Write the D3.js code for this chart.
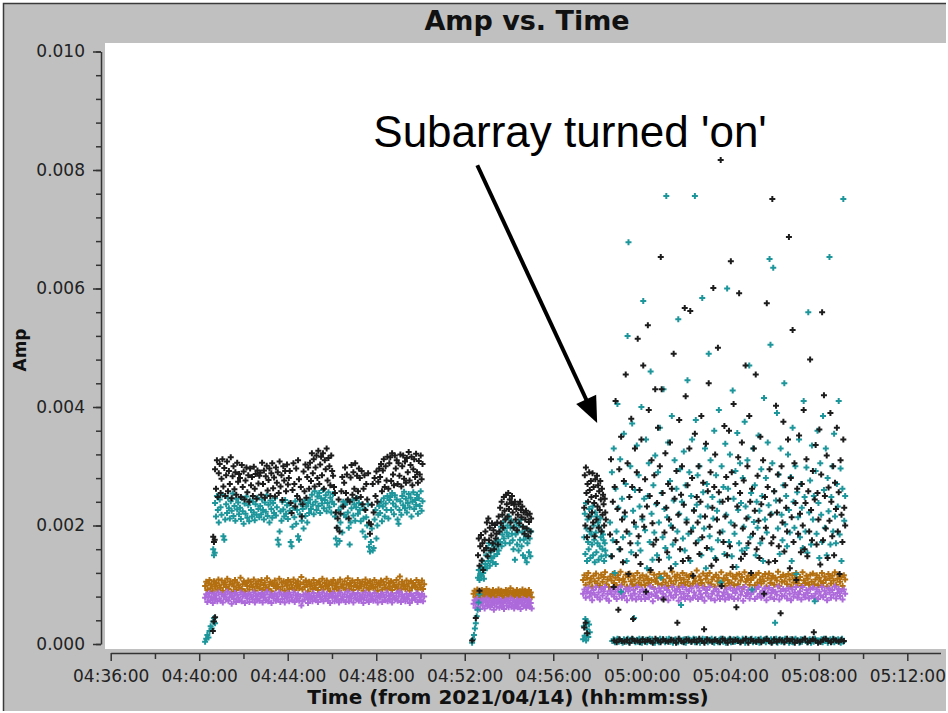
<!DOCTYPE html>
<html lang="en">
<head>
<meta charset="UTF-8">
<title>Amp vs. Time</title>
<script src="https://cdn.jsdelivr.net/npm/d3@7"></script>
<style>
  body { margin: 0; background: #fff; }
  svg { display: block; }
</style>
</head>
<body>
<svg id="chart" width="948" height="713"></svg>
<script>
// amplitudes are written in units of 1e-5 (290 -> 0.00290)
var AMP_UNIT = 1e-5;
var DAY = "2021-04-14T";

var timeTicks = ["04:36:00","04:40:00","04:44:00","04:48:00","04:52:00","04:56:00","05:00:00","05:04:00","05:08:00","05:12:00"];
var timeMinor = ["04:38:00","04:42:00","04:46:00","04:50:00","04:54:00","04:58:00","05:02:00","05:06:00","05:10:00"];
var ampTicks = [0, 0.002, 0.004, 0.006, 0.008, 0.010];

// first scan block 04:40 - 04:50
var blackA = [295,262,310,248,288,304,255,279,312,266,297,250,285,308,258,292,270,315,246,283,300,261,290,252,306,274,287,
  280,248,302,265,291,244,276,298,256,285,240,296,268,282,250,299,262,287,245,293,271,284,
  289,252,306,270,293,247,283,301,259,277,296,250,288,305,263,281,249,298,272,290,255,308,266,285,243,300,276,292,258,303,269,280,
  292,238,221,260,305,270,232,296,250,310,278,244,265,215,236,291,258,303,247,282,298,262,
  306,275,322,288,312,266,298,318,280,326,270,303,316,285,322,262,310,295,330,276,314,300,268,318,292,284,265,
  255,222,196,212,244,190,220,258,282,232,272,
  298,255,286,244,212,240,281,302,252,290,262,305,246,284,258,296,
  280,248,292,236,262,285,226,270,244,288,205,186,202,235,270,222,280,250,291,240,274,296,
  282,304,258,293,312,265,300,276,316,262,305,
  315,275,322,286,268,318,296,310,270,305,284,320,266,300,318,279,308,272,314,290,324,276,302,316,268,295,312,282,321,290,272,309,286,318,278,304];
var tealA = [238,215,250,226,205,244,231,218,252,182,176,210,236,221,247,229,212,241,225,254,216,233,208,245,227,239,219,
  230,211,246,224,203,237,220,249,213,234,207,242,226,215,240,222,209,236,218,247,228,214,
  233,219,244,226,210,239,223,251,216,235,205,242,228,213,238,221,246,217,231,176,168,190,224,208,240,227,215,243,220,234,211,237,
  225,172,165,198,230,214,241,203,226,182,176,219,236,208,228,195,242,216,232,205,238,221,
  244,228,252,235,219,258,240,226,249,233,255,221,246,237,260,229,243,251,224,238,256,231,247,222,240,253,236,
  215,178,168,196,226,174,205,232,188,240,218,
  235,214,241,222,196,168,205,229,243,217,236,208,231,246,220,238,
  226,207,235,190,212,228,181,214,200,236,164,156,172,195,158,162,210,226,178,200,218,233,
  221,240,207,232,246,215,237,226,250,212,243,
  248,226,255,237,219,251,232,244,210,203,226,241,218,250,234,257,229,245,222,238,253,231,247,215,240,256,228,243,235,252,220,246,233,258,225,241];
var orangeA = [98,105,91,102,108,94,100,89,106,97, 103,92,109,99,95,107,90,101,104,96, 110,93,100,106,88,102,97,108,91,104,
  99,95,112,93,101,106,89,103,98,107, 92,105,100,96,109,90,102,97,106,94, 101,108,91,99,104,95,111,93,100,105,
  89,103,98,107,94,101,96,110,92,104, 97,106,90,102,99,108,93,105,100,95, 109,91,103,98,106,94,101,113,92,104,
  96,107,100,89,105,97,102,93,108,99, 95,104,91,106,100,96,110,92,103,98, 107,94,101,89,105,99,108,93,102,96,
  104,90,109,97,101,95,106,92,100,111, 93,103,98,107,91,104,99,96,108,94, 102,97,105,90,100,109,95,103,92,106,
  98,101,94,108,96,104,90,102,99,107, 92,105,100,95,110,93,103,97,106,91, 104,99,96,108,94,101,114,92,105,98,
  100,93,107,97,102,90,106,95,103,99, 96,108,92,104,100,95,107,93,101];
var purpleA = [78,84,71,80,86,74,79,69,85,76, 82,72,87,77,73,84,70,80,83,75, 88,73,79,85,68,81,76,86,71,83,
  78,74,87,72,80,84,69,82,77,85, 71,83,79,75,87,70,81,76,84,73, 80,86,70,78,83,74,88,72,79,84,
  69,82,77,85,73,80,75,87,71,83, 76,84,70,81,78,86,72,83,79,74, 87,71,82,77,84,73,80,65,72,83,
  75,85,79,69,83,76,81,72,86,78, 74,82,71,84,79,75,87,72,81,77, 85,73,80,69,83,78,86,72,81,75,
  82,70,87,76,80,74,84,71,79,88, 72,81,77,85,70,83,78,75,86,73, 80,76,83,69,79,87,74,82,71,84,
  77,80,73,86,75,82,70,81,78,85, 71,83,79,74,87,72,81,76,84,70, 82,78,75,86,73,80,88,71,83,77,
  79,72,85,76,81,69,84,74,82,78, 75,86,71,83,79,74,85,72,80];
var tealStartA = [4, 9, 15, 11, 22, 30, 26, 38, 44, 35];
var blackStartA = [22, 38, 45];
var blackBlipA = [181, 172, 176];
var tealBlipA = [160, 150, 154];

// second block 04:52 - 04:55
var blackB = [150,178,132,165,184,141,170,125,158,176, 190,162,205,148,212,175,196,158,183,204,
  170,192,160,201,178,186,205,168,215,190, 230,204,240,218,196,248,225,210,252,236,
  215,255,228,244,205,238,250,222,196,235, 240,210,228,192,218,236,204,240,226,214,
  232,198,222,186,210,225,195,218,182,206, 220,190,212];
var tealB = [112,125,108,118,130,115,140,120,110,128, 135,150,128,162,140,170,132,155,145,168,
  138,160,148,172,135,165,152,176,158,190, 172,198,165,185,205,178,195,170,212,188,
  200,182,215,170,196,208,186,175,160,198, 142,185,205,168,190,158,200,176,210,165,
  188,150,176,195,145,182,138,170,192,155, 178,148,190];
var orangeB = [85,90,79,87,92,81,88,78,86,91,83,89,80,87,93,82, 85,90,78,88,84,91,80,86,89,79,87,92,82,85,90,81,
  88,77,86,91,83,89,80,87,94,82,86,90,79,88,84,91, 81,85,89,78,87,92,83,86,90,80,88,82,91,84,87,79];
var purpleB = [68,74,61,70,76,63,72,59,69,75,65,73,60,71,77,64, 67,74,62,70,66,75,58,69,73,63,71,76,61,68,74,64,
  70,59,72,75,65,73,62,69,77,63,67,74,60,71,66,75, 62,68,73,59,70,76,64,67,74,61,72,65,75,63,69,60];
var tealRampB = [2, 8, 15, 26, 35, 47, 58, 70, 84];
var blackRampB = [6, 44, 90];

// short block just before the subarray came on
var blackC = [230,285,200,298,255,180,270,240,215,290,260,195,275,248,222,288,205,265,238,182,
  278,250,210,284,232,268,196,258,226,275,244,190,262,218,252,236,200,245,222,210];
var tealC = [180,220,152,238,195,140,210,172,160,228,190,145,215,185,168,232,150,200,176,138,
  222,188,155,215,170,205,142,198,165,212,180,148,190,160,185,175,140,170,158,150];
var tealLowC = [8, 30, 14, 42, 6, 25, 38, 12, 33, 20];
var blackLowC = [28, 36, 18];

// subarray 'on' 04:58 - 05:09
var orangeD = [108,116,100,112,120,104,110,97,115,106,119,102, 111,98,117,105,113,121,101,109,96,114,107,118,
  103,112,99,116,108,122,100,110,105,117,97,113, 119,106,101,115,109,98,120,104,112,100,116,107,
  99,114,110,103,121,108,96,117,105,111,102,118, 113,100,109,119,104,115,98,111,106,122,101,114,
  107,117,97,112,103,120,109,100,116,105,113,98, 118,102,111,106,124,99,114,108,103,119,96,110,
  115,104,120,101,109,113,97,117,106,112,100,121, 105,111,98,116,108,102,119,104,114,99,110,117,
  101,118,107,113,96,121,105,110,115,100,108,116, 112,99,117,104,120,109,102,114,106,118,97,111,
  119,103,110,115,100,112,107,122,98,113,105,117, 106,114,101,118,109,97,116,104,111,120,102,108,
  113,98,121,107,103,115,110,100,117,105,119,101, 109,116,99,112,106,120,103,114,108,97,118,111,
  102,115,107,121,100,110,117,105,113,98,116,109];
var purpleD = [85,92,78,88,95,80,86,74,91,83,96,79, 87,75,93,82,89,96,77,85,73,90,84,94,
  80,88,76,92,84,97,78,86,81,93,74,89, 95,82,77,91,85,75,96,80,88,76,92,83,
  76,90,86,79,97,84,72,93,81,87,78,94, 89,77,85,95,80,91,74,87,82,96,78,90,
  83,93,73,88,79,96,85,76,92,81,89,75, 94,78,87,82,97,76,90,84,79,95,73,86,
  91,80,96,77,85,89,74,93,82,88,76,97, 81,87,75,92,84,78,95,80,90,76,86,93,
  77,94,83,89,73,96,81,86,91,77,84,92, 88,76,93,80,96,85,78,90,82,94,74,87,
  95,79,86,91,76,88,83,97,75,89,81,93, 82,90,77,94,85,74,92,80,87,96,78,84,
  89,75,96,83,79,91,86,77,93,81,95,78, 85,92,76,88,82,96,79,90,84,74,94,87,
  78,91,83,97,77,86,93,81,89,75,92,85];
var blackD = [185,312,148,240,96,265,410,172,228,58,295,160,350,210,138,275,
  222,455,190,305,118,248,170,380,265,42,205,330,150,290,515,182,
  260,135,345,215,470,198,278,88,232,538,395,250,125,310,204,168,
  285,430,176,238,365,142,300,653,430,255,75,188,322,230,155,270,
  210,340,128,262,196,490,245,175,292,36,218,378,160,252,300,140,
  235,567,418,205,268,145,330,562,190,280,115,225,355,170,248,205,
  300,152,240,385,180,272,25,215,338,162,258,440,198,290,132,230,
  601,265,320,142,210,500,256,188,817,98,240,172,368,215,282,150,
  245,360,165,646,290,130,405,200,270,62,232,315,592,255,144,340,
  195,276,152,470,212,300,170,385,240,120,262,186,330,225,455,160,
  284,208,145,350,236,178,310,85,248,196,575,265,138,295,218,170,
  751,180,258,140,402,222,286,165,242,52,300,205,375,156,268,230,
  190,345,687,128,280,214,530,172,305,238,108,262,186,352,220,155,
  270,200,395,160,238,312,148,258,190,480,226,175,292,20,244,336,
  168,255,210,362,134,286,560,175,420,250,195,318,145,264,208,390,
  240,182,300,150,272,228,365,190,256,118,310,218,172,345,230,200];
var tealD = [205,148,290,175,330,120,262,190,405,230,160,312,88,245,180,355,
  215,270,140,520,678,186,300,155,372,225,44,260,198,335,170,285,
  232,158,400,210,579,245,192,345,128,250,305,172,460,220,142,268,
  188,318,236,150,290,205,365,112,255,180,430,228,162,756,214,340,
  146,275,200,385,168,242,310,135,262,190,548,220,295,66,240,178,
  325,158,268,210,445,186,290,140,250,345,196,226,756,378,235,285,
  175,300,215,150,584,256,195,330,128,270,232,490,182,310,160,248,
  212,360,145,285,225,175,395,240,104,300,190,265,152,338,218,600,
  262,172,320,205,148,428,245,186,292,130,356,226,170,305,238,158,
  280,198,375,232,162,310,214,470,180,255,92,330,206,268,150,240,
  196,352,225,170,295,250,140,415,210,280,188,340,234,650,505,220,
  305,635,258,36,242,390,195,286,152,330,218,175,268,440,202,250,
  165,320,226,188,282,140,365,240,196,300,118,256,214,345,180,270,
  230,162,410,248,190,298,154,560,222,276,168,335,210,250,72,292,
  186,360,238,145,305,218,172,385,260,196,330,150,280,224,653,168,
  248,300,190,355,215,170,270,232,410,185,296,140,262,751,208,250];
var tealFloorD = [5,8,3,6,9,4,7,5,2,8,6,4,9,3,7,5,8,6,3,7, 4,9,6,2,8,5,7,3,6,9,4,8,5,2,7,6,3,9,5,8,
  6,3,8,5,9,4,7,2,6,8,5,3,9,6,4,7,8,2,5,9, 7,4,6,9,3,8,5,7,2,6,9,4,8,5,3,7,6,9,4,2,
  8,5,3,7,9,6,4,8,2,5,7,9,3,6,8,4,5,9,7,3, 5,9,6,2,8,4,7,5,9,3,6,8,4,7,2,9,5,6,8,3,
  9,6,4,8,3,7,5,9,2,6,8,4,7,3,9,5,6,2,8,4, 3,7,9,5,6,2,8,4,7,9,5,3,6,8,2,7,4,9,5,6,
  6,4,8,3,9,5,7,2,6,8,4,9,3,7,5,8,6,2,9,4];
var blackFloorD = [6,3,8,5,4,7,2,9,5,6,3,8,4,7,5,2,9,6,3,8,5,4,7,6,2,9,5,3,8,6,
  4,7,3,9,5,2,8,6,4,7,5,3,9,6,2,8,4,7,5,3,6,9,2,8,5,4,7,3,6,9,
  5,2,8,4,7,6,3,9,5,8,2,6,4,7,9,3,5,8,6,2,4,7,9,5,3,8,6,4,7,5];

var noteText = "Subarray turned 'on'";
var noteAt = ["04:47:52", 0.00839];
var arrowFrom = ["04:52:34", 0.00808];
var arrowTo = ["04:57:59", 0.00373];

var orange = "#b36f10", purple = "#ad6ada", teal = "#1d969b", black = "#1c1c1c";

function t(s) { return new Date(DAY + s + "Z"); }

// drawing order: bands first, then teal, then black on top
var layers = [
  {v: orangeA, t0: "04:40:16", dt: 3, c: orange},
  {v: orangeB, t0: "04:52:24", dt: 2.5, c: orange},
  {v: orangeD, t0: "04:57:21", dt: 3.5, c: orange},
  {v: purpleA, t0: "04:40:16", dt: 3, c: purple},
  {v: purpleB, t0: "04:52:24", dt: 2.5, c: purple},
  {v: purpleD, t0: "04:57:21", dt: 3.5, c: purple},
  {v: tealStartA, t0: "04:40:16", dt: 3, c: teal},
  {v: tealBlipA, t0: "04:40:38", dt: 2, c: teal},
  {v: tealA, t0: "04:40:43", dt: 2.5, c: teal},
  {v: tealRampB, t0: "04:52:20", dt: 2.5, c: teal},
  {v: tealB, t0: "04:52:36", dt: 2, c: teal},
  {v: tealLowC, t0: "04:57:21", dt: 2, c: teal},
  {v: tealC, t0: "04:57:24", dt: 1.5, c: teal},
  {v: tealFloorD, t0: "04:58:40", dt: 3.5, c: teal},
  {v: tealD, t0: "04:58:34", dt: 2.5, c: teal},
  {v: blackStartA, t0: "04:40:37", dt: 3, c: black},
  {v: blackBlipA, t0: "04:40:38", dt: 2, c: black},
  {v: blackA, t0: "04:40:43", dt: 2.5, c: black},
  {v: blackRampB, t0: "04:52:20", dt: 10, c: black},
  {v: blackB, t0: "04:52:36", dt: 2, c: black},
  {v: blackLowC, t0: "04:57:24", dt: 4, c: black},
  {v: blackC, t0: "04:57:24", dt: 1.5, c: black},
  {v: blackFloorD, t0: "04:58:45", dt: 7, c: black},
  {v: blackD, t0: "04:58:34", dt: 2.5, c: black}
];

var svg = d3.select("#chart");

var x = d3.scaleUtc()
  .domain([t("04:36:00"), t("05:13:30")])
  .range([110.7, 940.5]);
var y = d3.scaleLinear()
  .domain([0, 0.010])
  .range([644, 51.5]);

// grey frame and white plot area
svg.append("rect").attr("x", 3).attr("y", 3).attr("width", 943).attr("height", 708).attr("fill", "#c0c0c0");
svg.append("path").attr("d", "M3.5,711V3.5H946").attr("fill", "none").attr("stroke", "#3a3a3a").attr("stroke-width", 1.5);
svg.append("rect").attr("x", 105).attr("y", 43).attr("width", 841).attr("height", 606).attr("fill", "#fff");

svg.append("text")
  .attr("x", 527).attr("y", 30)
  .attr("text-anchor", "middle")
  .style("font", "bold 27px 'DejaVu Sans'")
  .attr("fill", "#111")
  .text("Amp vs. Time");

var cross = d3.symbol().type(d3.symbolCross).size(20)();

layers.forEach(function(s) {
  var start = +t(s.t0);
  svg.append("g")
    .attr("fill", s.c)
    .selectAll("path")
    .data(s.v)
    .enter().append("path")
    .attr("d", cross)
    .attr("transform", function(d, i) {
      return "translate(" + x(new Date(start + i * s.dt * 1000)) + "," + y(d * AMP_UNIT) + ")";
    });
});

// axes
var xAxis = d3.axisBottom(x)
  .tickValues(timeTicks.map(t))
  .tickFormat(d3.utcFormat("%H:%M:%S"))
  .tickSize(8).tickSizeOuter(0).tickPadding(9);
var xMinor = d3.axisBottom(x)
  .tickValues(timeMinor.map(t))
  .tickFormat("")
  .tickSize(6).tickSizeOuter(0);
var yAxis = d3.axisLeft(y)
  .tickValues(ampTicks)
  .tickFormat(d3.format(".3f"))
  .tickSize(8).tickSizeOuter(0).tickPadding(8);
var yMinor = d3.axisLeft(y)
  .tickValues(d3.range(0, 26).map(function(i) { return i * 0.0004; }))
  .tickFormat("")
  .tickSize(5).tickSizeOuter(0);

svg.append("g").attr("transform", "translate(0,653)").call(xAxis);
svg.append("g").attr("transform", "translate(0,653)").call(xMinor).select(".domain").remove();
svg.append("g").attr("transform", "translate(101,0)").call(yAxis);
svg.append("g").attr("transform", "translate(101,0)").call(yMinor).select(".domain").remove();

svg.selectAll(".tick line, .domain").attr("stroke", "#333").attr("stroke-width", 1.5);
svg.selectAll(".tick text")
  .attr("fill", "#222")
  .style("font-family", "'DejaVu Sans'")
  .style("font-size", "17px");

svg.append("text")
  .attr("x", 508).attr("y", 704)
  .attr("text-anchor", "middle")
  .style("font", "bold 20px 'DejaVu Sans'")
  .attr("fill", "#111")
  .text("Time (from 2021/04/14) (hh:mm:ss)");

svg.append("text")
  .attr("transform", "translate(26,350) rotate(-90)")
  .attr("text-anchor", "middle")
  .style("font", "bold 17px 'DejaVu Sans'")
  .attr("fill", "#111")
  .text("Amp");

// annotation
svg.append("text")
  .attr("x", x(t(noteAt[0]))).attr("y", y(noteAt[1]))
  .style("font", "44px 'Liberation Sans', Arial, sans-serif")
  .attr("fill", "#000")
  .text(noteText);

var x0 = x(t(arrowFrom[0])), y0 = y(arrowFrom[1]);
var x1 = x(t(arrowTo[0])), y1 = y(arrowTo[1]);
var len = Math.hypot(x1 - x0, y1 - y0);
var ux = (x1 - x0) / len, uy = (y1 - y0) / len;
var headL = 26, headW = 11;
var bx = x1 - ux * headL, by = y1 - uy * headL;
svg.append("line")
  .attr("x1", x0).attr("y1", y0)
  .attr("x2", bx + ux * 2).attr("y2", by + uy * 2)
  .attr("stroke", "#000").attr("stroke-width", 4);
svg.append("path")
  .attr("d", "M" + x1 + "," + y1 +
    "L" + (bx - uy * headW) + "," + (by + ux * headW) +
    "L" + (bx + uy * headW) + "," + (by - ux * headW) + "Z")
  .attr("fill", "#000");
</script>
</body>
</html>
